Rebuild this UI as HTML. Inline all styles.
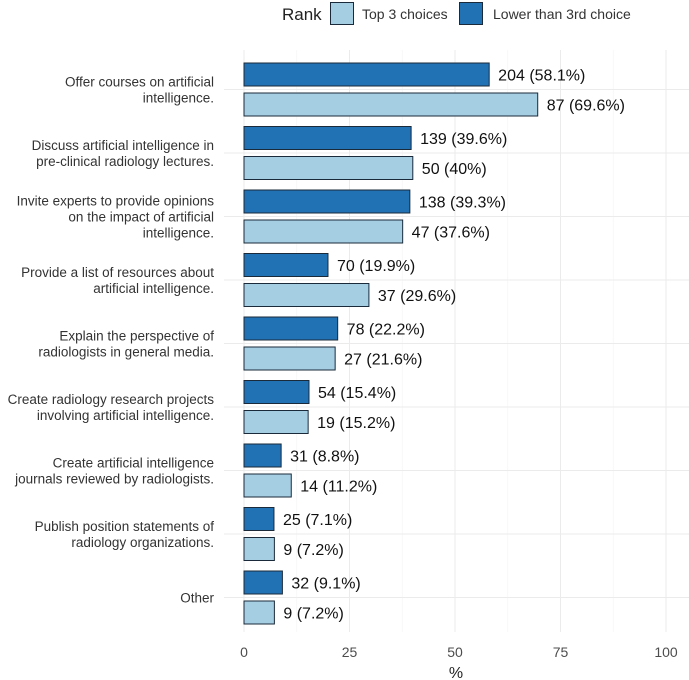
<!DOCTYPE html>
<html><head><meta charset="utf-8"><style>
body{margin:0;background:#fff;}
svg{display:block;font-family:"Liberation Sans",Arial,sans-serif;}
</style></head><body>
<svg id="chart" width="689" height="680"></svg>
<script>
const categories=[
 ["Offer courses on artificial","intelligence."],
 ["Discuss artificial intelligence in","pre-clinical radiology lectures."],
 ["Invite experts to provide opinions","on the impact of artificial","intelligence."],
 ["Provide a list of resources about","artificial intelligence."],
 ["Explain the perspective of","radiologists in general media."],
 ["Create radiology research projects","involving artificial intelligence."],
 ["Create artificial intelligence","journals reviewed by radiologists."],
 ["Publish position statements of","radiology organizations."],
 ["Other"]
];
const lowerCounts=[204,139,138,70,78,54,31,25,32];
const lowerPct=[58.1,39.6,39.3,19.9,22.2,15.4,8.8,7.1,9.1];
const topCounts=[87,50,47,37,27,19,14,9,9];
const topPct=[69.6,40,37.6,29.6,21.6,15.2,11.2,7.2,7.2];
const xTicks=[0,25,50,75,100];

const NS="http://www.w3.org/2000/svg";
const svg=document.getElementById('chart');
function el(tag,attrs,parent){const e=document.createElementNS(NS,tag);for(const k in attrs)e.setAttribute(k,attrs[k]);(parent||svg).appendChild(e);return e;}
const x=v=>244+v*4.22;
const y=i=>89.5+i*63.5;
const DARK="#2171b5",LIGHT="#a6cee3",BH=23;

for(let v=0;v<=100;v+=12.5){
 const g=el('line',{x1:x(v),x2:x(v),y1:50,y2:632,stroke:v%25===0?"#ebebeb":"#f4f4f4","stroke-width":v%25===0?1:0.6});
 
 
}
categories.forEach((c,i)=>{
 const g=el('line',{x1:224,x2:689,y1:y(i),y2:y(i),stroke:"#ebebeb","stroke-width":1});
 
 
});
categories.forEach((c,i)=>{
 const b1=el('rect',{x:x(0),y:y(i)-15-BH/2,width:x(lowerPct[i])-x(0),height:BH,fill:DARK,stroke:"#1a2a3a","stroke-width":1});
 
 
 const t1=el('text',{x:x(lowerPct[i])+9,y:y(i)-15+6,"font-size":16,fill:"#111"});
 t1.textContent=lowerCounts[i]+" ("+lowerPct[i]+"%)";
 
 
 const b2=el('rect',{x:x(0),y:y(i)+15-BH/2,width:x(topPct[i])-x(0),height:BH,fill:LIGHT,stroke:"#1a2a3a","stroke-width":1});
 
 
 const t2=el('text',{x:x(topPct[i])+9,y:y(i)+15+6,"font-size":16,fill:"#111"});
 t2.textContent=topCounts[i]+" ("+topPct[i]+"%)";
 
 
 const n=c.length;
 const t=el('text',{"text-anchor":"end","font-size":13.5,fill:"#333"});
 
 
 c.forEach((line,j)=>{
  const ts=el('tspan',{x:214,y:y(i)+5+(j-(n-1)/2)*16},t);
  ts.textContent=line;
 });
});
xTicks.forEach(v=>{
 const t=el('text',{x:x(v),y:657,"text-anchor":"middle","font-size":14,fill:"#4d4d4d"});
 t.textContent=v;
 
 
});
const xt=el('text',{x:456,y:678,"text-anchor":"middle","font-size":16,fill:"#222"});
xt.textContent="%";


const lt=el('text',{x:282,y:20,"font-size":17,fill:"#222"});
lt.textContent="Rank";


const l1=el('rect',{x:330.5,y:2.5,width:23,height:22,fill:LIGHT,stroke:"#1a2a3a","stroke-width":1});


const l1t=el('text',{x:362,y:19,"font-size":14,fill:"#333"});
l1t.textContent="Top 3 choices";


const l2=el('rect',{x:459.5,y:2.5,width:23,height:22,fill:DARK,stroke:"#1a2a3a","stroke-width":1});


const l2t=el('text',{x:493,y:19,"font-size":14,fill:"#333"});
l2t.textContent="Lower than 3rd choice";


</script>
</body></html>
